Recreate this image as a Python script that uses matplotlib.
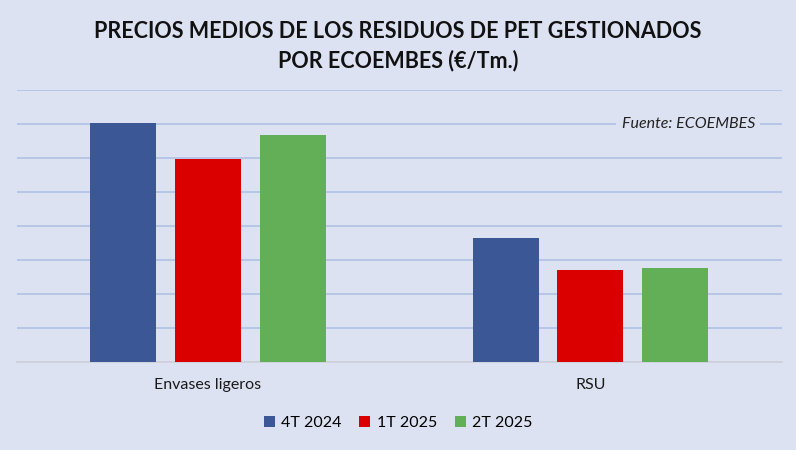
import matplotlib.pyplot as plt
import numpy as np

categories = ['Envases ligeros', 'RSU']
series = ['4T 2024', '1T 2025', '2T 2025']
v_4t2024 = [352, 182]
v_1t2025 = [298, 135]
v_2t2025 = [334, 139]
colors = ['#3C5796', '#DA0000', '#63AF57']

bg = '#DCE2F2'
plt.rcParams['font.family'] = ['Lato', 'DejaVu Sans']

fig = plt.figure(figsize=(7.96, 4.5), dpi=100, facecolor=bg)
ax = fig.add_axes([0.021, 0.195, 0.961, 0.605], facecolor=bg)

x = np.arange(len(categories))
w = 0.1725
step = 0.222
for i, (vals, name) in enumerate(zip([v_4t2024, v_1t2025, v_2t2025], series)):
    ax.bar(x + (i - 1) * step, vals, w, color=colors[i], label=name, zorder=3)

ax.set_xlim(-0.5, 1.5)
ax.set_ylim(0, 400)
ax.set_yticks(np.arange(0, 401, 50))
ax.yaxis.grid(True, color='#B4C3E6', linewidth=1.3, zorder=0)
ax.tick_params(axis='y', left=False, labelleft=False)
ax.tick_params(axis='x', bottom=False, labelsize=11.5, pad=8, colors='#1a1a1a')
ax.set_xticks(x)
ax.set_xticklabels(categories)
for s in ['left', 'right', 'top']:
    ax.spines[s].set_visible(False)
ax.spines['bottom'].set_color('#D0D2DA')
ax.spines['bottom'].set_linewidth(1.3)

fig.text(0.5, 0.898, 'PRECIOS MEDIOS DE LOS RESIDUOS DE PET GESTIONADOS\nPOR ECOEMBES (€/Tm.)',
         ha='center', va='center', fontsize=15.5, fontweight='bold', linespacing=1.45, color='#111111')

ax.text(0.965, 0.875, 'Fuente: ECOEMBES', transform=ax.transAxes, ha='right', va='center',
        fontsize=11.5, style='italic', color='#222222', zorder=5,
        bbox=dict(facecolor=bg, edgecolor='none', pad=4))

fig.legend(loc='center', bbox_to_anchor=(0.5, 0.06), ncol=3, frameon=False,
           fontsize=11.5, handlelength=0.7, handleheight=0.7, handletextpad=0.4,
           columnspacing=1.1)

fig.savefig('out.png', dpi=100, facecolor=bg)
